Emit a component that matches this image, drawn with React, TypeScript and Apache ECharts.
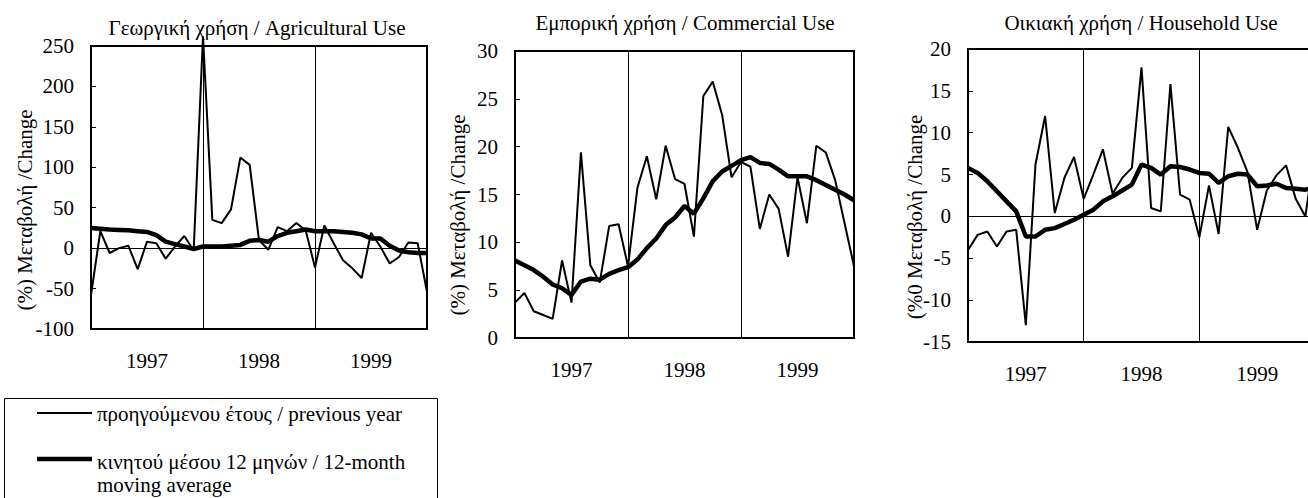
import React, { useEffect, useRef } from "react";
import * as echarts from "echarts";

// Monthly categories Jan 1997 .. Jan 2000 (37 points)
const months: string[] = [];
for (let y = 1997; y <= 2000; y++) {
  for (let m = 1; m <= 12; m++) {
    if (y === 2000 && m > 1) break;
    months.push(`${y}-${String(m).padStart(2, "0")}`);
  }
}

const titles = [
  "Γεωργική χρήση / Agricultural Use",
  "Εμπορική χρήση / Commercial Use",
  "Οικιακή χρήση / Household Use",
];
const yNames = ["(%) Μεταβολή /Change", "(%) Μεταβολή /Change", "(%0 Μεταβολή /Change"];
const legendNames = [
  "προηγούμενου έτους / previous year",
  "κινητού μέσου 12 μηνών / 12-month\nmoving average",
];

const agriPrev = [-58, 21, -6, 0, 3, -26, 8, 6, -13, 2, 15, -3, 262, 35, 31, 48, 112, 103, 10, -2, 26, 21, 31, 22, -24, 28, 6, -15, -25, -37, 19, 2, -19, -11, 7, 6, -54];
const agriMA = [25, 24, 23, 22.5, 22, 21, 20, 16, 8, 5, 2, -1, 2, 2, 2, 3, 4, 9, 10, 8, 15, 19, 21, 23, 21, 21, 21, 20, 19, 17, 12, 12, 3, -3, -5, -6, -6];

const commPrev = [3.7, 4.7, 2.8, 2.4, 2.0, 8.1, 3.7, 19.4, 7.6, 5.8, 11.7, 11.9, 7.5, 15.7, 19.0, 14.5, 20.1, 16.6, 16.1, 10.6, 25.3, 26.8, 23.3, 16.8, 18.4, 17.9, 11.4, 15.0, 13.5, 8.5, 16.8, 12.0, 20.1, 19.4, 16.5, 12.0, 7.5];
const commMA = [8.1, 7.6, 7.1, 6.4, 5.6, 5.2, 4.5, 5.9, 6.2, 6.1, 6.7, 7.1, 7.4, 8.2, 9.4, 10.4, 11.8, 12.6, 13.8, 13.0, 14.6, 16.4, 17.4, 18.0, 18.6, 18.9, 18.3, 18.2, 17.6, 16.9, 16.9, 16.9, 16.5, 16.0, 15.5, 15.0, 14.4];

const housePrev = [-4.0, -2.2, -1.8, -3.6, -1.8, -1.6, -13.0, 6.2, 12.0, 0.4, 4.6, 7.1, 2.1, 5.0, 8.0, 2.7, 4.6, 5.8, 17.8, 1.0, 0.6, 15.8, 2.6, 2.0, -2.5, 3.7, -2.1, 10.7, 8.2, 5.3, -1.6, 3.1, 4.9, 6.1, 2.1, 0.0, 8];
const houseMA = [5.8, 5.2, 4.2, 3.0, 1.8, 0.6, -2.4, -2.4, -1.6, -1.4, -0.9, -0.4, 0.2, 0.8, 1.8, 2.4, 3.1, 3.8, 6.2, 5.8, 5.0, 6.0, 5.9, 5.6, 5.2, 5.1, 4.0, 4.8, 5.1, 5.0, 3.6, 3.7, 3.9, 3.4, 3.3, 3.2, 3.5];

const yRanges = [
  { min: -100, max: 250, interval: 50 },
  { min: 0, max: 30, interval: 5 },
  { min: -15, max: 20, interval: 5 },
];

const FONT = "Liberation Serif, serif";
const FS = 21;

export default function App() {
  const ref = useRef<HTMLDivElement>(null);
  useEffect(() => {
    if (!ref.current) return;
    const chart = echarts.init(ref.current, null, { renderer: "svg" });
    const grids = [
      { left: 91, top: 46, width: 336, height: 283 },
      { left: 515, top: 51, width: 339, height: 287 },
      { left: 968, top: 49, width: 347, height: 293 },
    ];
    const prevData = [agriPrev, commPrev, housePrev];
    const maData = [agriMA, commMA, houseMA];
    const titlePos = [
      { x: 257, y: 17 },
      { x: 685, y: 12 },
      { x: 1141, y: 12 },
    ];
    const yNamePos = [
      { x: 25, y: 210 },
      { x: 458, y: 215 },
      { x: 915, y: 217 },
    ];

    const series: any[] = [];
    for (let k = 0; k < 3; k++) {
      series.push({
        type: "line",
        xAxisIndex: k,
        yAxisIndex: k,
        data: prevData[k],
        symbol: "none",
        clip: false,
        lineStyle: { color: "#000", width: 2 },
        markLine: {
          silent: true,
          symbol: ["none", "none"],
          label: { show: false },
          lineStyle: { color: "#000", width: 1, type: "solid" },
          data: [{ yAxis: 0 }],
        },
        z: 3,
      });
      series.push({
        type: "line",
        xAxisIndex: k,
        yAxisIndex: k,
        data: maData[k],
        symbol: "none",
        clip: false,
        lineStyle: { color: "#000", width: 4.5 },
        z: 4,
      });
    }

    const graphic: any[] = [];
    for (let k = 0; k < 3; k++) {
      graphic.push({
        type: "text",
        x: yNamePos[k].x,
        y: yNamePos[k].y,
        rotation: Math.PI / 2,
        style: {
          text: yNames[k],
          fontSize: FS,
          fontFamily: FONT,
          fill: "#000",
          textAlign: "center",
          textVerticalAlign: "middle",
        },
      });
    }
    // legend box
    graphic.push({
      type: "rect",
      shape: { x: 4.5, y: 398.5, width: 433, height: 120 },
      style: { fill: "#fff", stroke: "#000", lineWidth: 1 },
      z: 0,
    });
    graphic.push({
      type: "line",
      shape: { x1: 37, y1: 413, x2: 92, y2: 413 },
      style: { stroke: "#000", lineWidth: 2 },
    });
    graphic.push({
      type: "text",
      x: 97,
      y: 414,
      style: {
        text: legendNames[0],
        fontSize: FS,
        fontFamily: FONT,
        fill: "#000",
        textAlign: "left",
        textVerticalAlign: "middle",
      },
    });
    graphic.push({
      type: "line",
      shape: { x1: 37, y1: 459, x2: 92, y2: 459 },
      style: { stroke: "#000", lineWidth: 4.5 },
    });
    graphic.push({
      type: "text",
      x: 97,
      y: 450,
      style: {
        text: legendNames[1],
        fontSize: FS,
        fontFamily: FONT,
        lineHeight: 23,
        fill: "#000",
        textAlign: "left",
        textVerticalAlign: "top",
      },
    });

    chart.setOption({
      animation: false,
      backgroundColor: "#fff",
      title: titles.map((t, k) => ({
        text: t,
        left: titlePos[k].x,
        top: titlePos[k].y,
        textAlign: "center",
        padding: 0,
        textStyle: { fontSize: FS, fontWeight: "normal", fontFamily: FONT, color: "#000" },
      })),
      grid: grids.map((g) => ({
        ...g,
        show: true,
        borderColor: "#000",
        borderWidth: 2,
        backgroundColor: "transparent",
        containLabel: false,
        outerBoundsMode: "none",
      })),
      xAxis: grids.map((_, k) => ({
        type: "category",
        gridIndex: k,
        data: months,
        boundaryGap: false,
        axisLine: { show: false },
        axisTick: { show: false },
        axisLabel: {
          interval: (i: number) => i % 12 === 6,
          formatter: (v: string) => v.slice(0, 4),
          margin: 21,
          fontSize: FS,
          fontFamily: FONT,
          color: "#000",
        },
        splitLine: {
          show: true,
          interval: (i: number) => i === 12 || i === 24,
          lineStyle: { color: "#000", width: 1 },
        },
      })),
      yAxis: yRanges.map((r, k) => ({
        type: "value",
        gridIndex: k,
        min: r.min,
        max: r.max,
        interval: r.interval,
        axisLine: { show: false },
        axisTick: { show: true, inside: true, length: 5, lineStyle: { color: "#000" } },
        splitLine: { show: false },
        axisLabel: {
          margin: 17,
          fontSize: FS,
          fontFamily: FONT,
          color: "#000",
        },
      })),
      series,
      graphic,
    });
    return () => chart.dispose();
  }, []);
  return (
    <div
      ref={ref}
      style={{ position: "fixed", left: 0, top: 0, width: 1308, height: 498, background: "#fff" }}
    />
  );
}
